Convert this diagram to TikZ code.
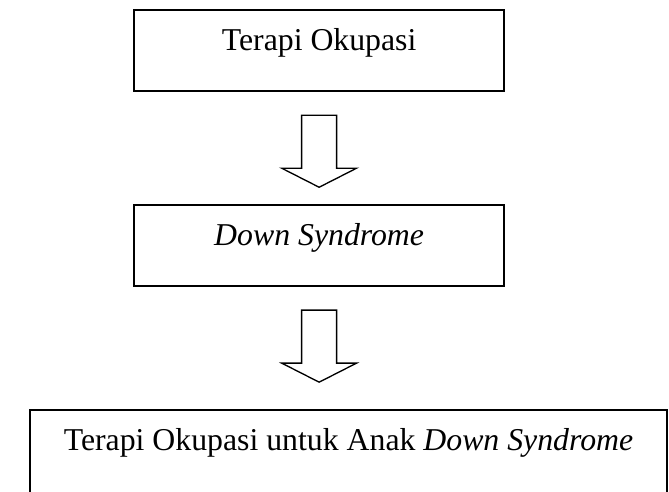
\documentclass[tikz,border=0pt]{standalone}
\usepackage{fontspec}
\setmainfont{Liberation Serif}
\usetikzlibrary{positioning,calc}

\tikzset{
  flowbox/.style={draw, line width=0.9pt, inner xsep=0pt, inner ysep=0pt,
    text height=15.1pt, text depth=15.5pt, font=\fontsize{12}{14}\selectfont},
  hollowarrow/.style={draw, line width=0.5pt, line join=miter, fill=white}
}

\begin{document}
\begin{tikzpicture}

    % Page frame
    \clip (0,0) rectangle (252.6pt,185.4pt);

    % Boxes
    \node[flowbox, minimum width=139.7pt, anchor=north] (topbox) at (120.5pt,182pt) {Terapi Okupasi};
    \node[flowbox, minimum width=139.7pt, below=42.1pt of topbox] (midbox) {\textit{Down Syndrome}};
    \node[flowbox, minimum width=240.5pt, text depth=30pt, below=45.9pt of midbox, xshift=11.1pt] (botbox) {Terapi Okupasi untuk Anak \textit{Down Syndrome}};

    % Hollow block arrows under each box
    \foreach \from in {topbox,midbox} {
        \draw[hollowarrow] ($(\from.south)+(-6.6pt,-8.6pt)$) -- ++(13.2pt,0) -- ++(0,-20pt)
            -- ++(7.55pt,0) -- ++(-14.15pt,-7.2pt) -- ++(-14.15pt,7.2pt) -- ++(7.55pt,0) -- cycle;
    }

\end{tikzpicture}
\end{document}
